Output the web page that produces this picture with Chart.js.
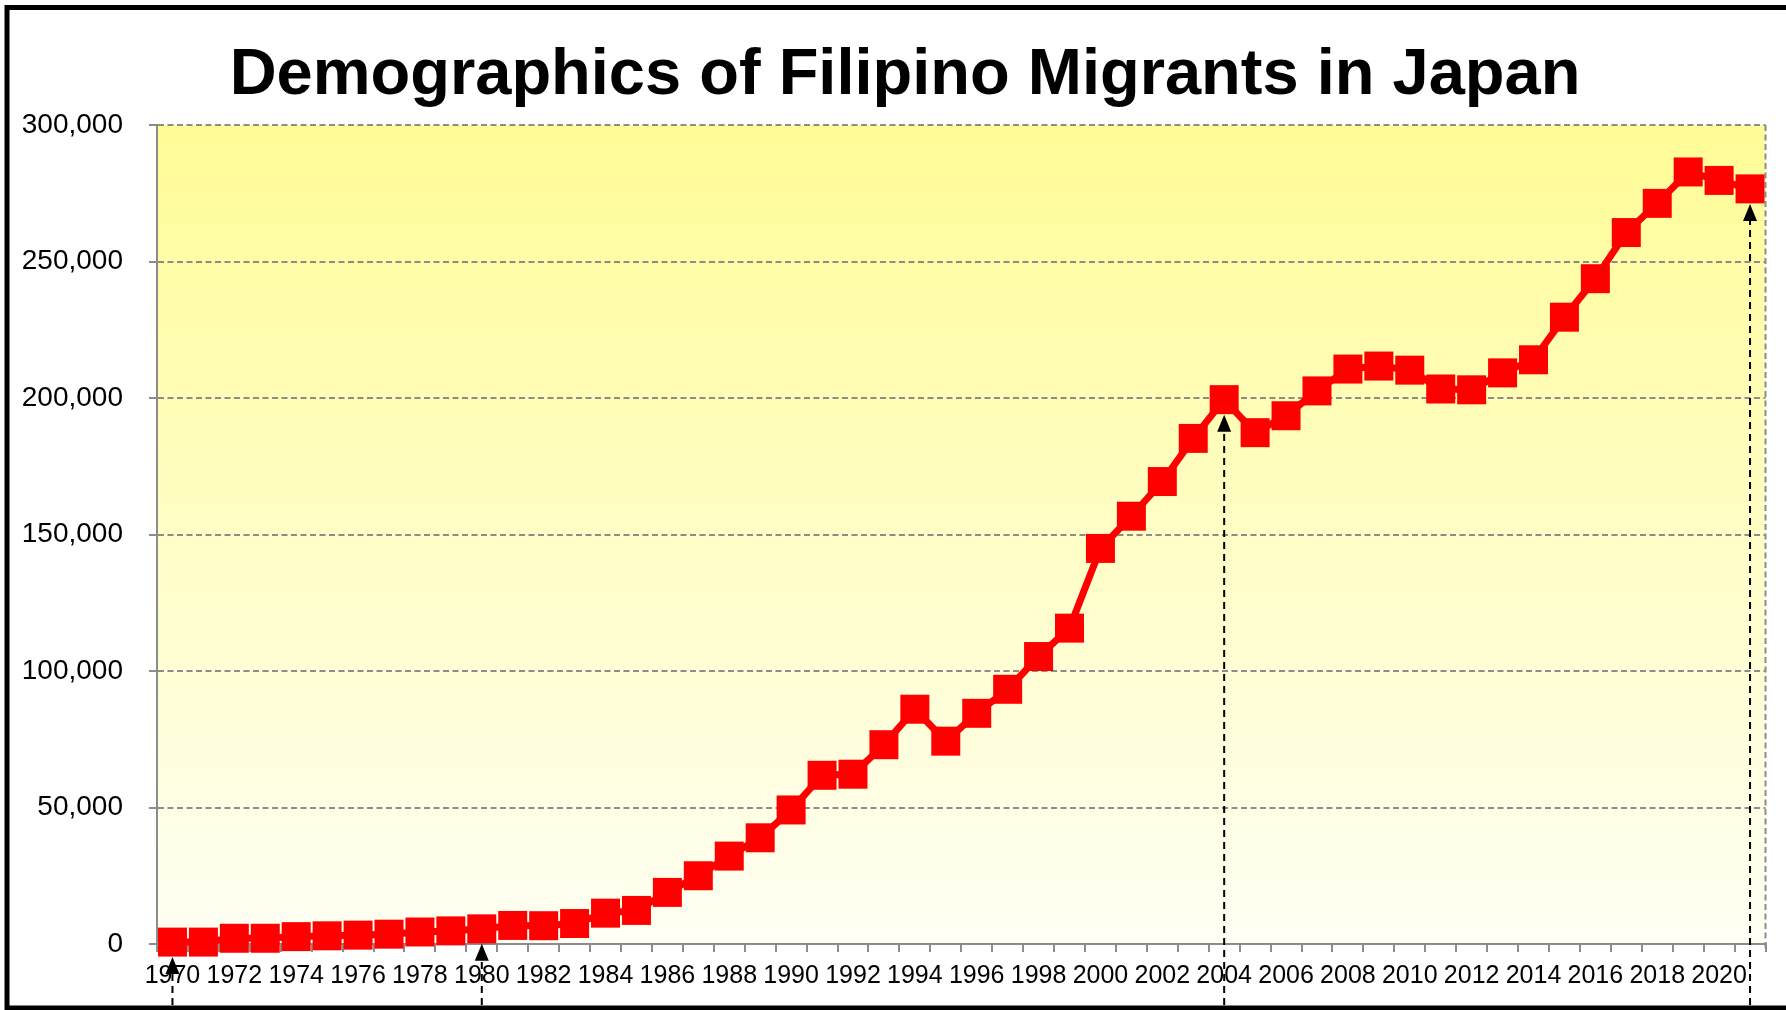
<!DOCTYPE html>
<html>
<head>
<meta charset="utf-8">
<title>Demographics of Filipino Migrants in Japan</title>
<script src="https://cdn.jsdelivr.net/npm/chart.js@4/dist/chart.umd.min.js"></script>
<style>
  html, body { margin: 0; padding: 0; background: #fff; }
  canvas { display: block; }
</style>
</head>
<body>
<canvas id="migrantChart" width="1786" height="1010"></canvas>
<script>
// Filipino residents in Japan
const years = [
    '1970', '1971', '1972', '1973', '1974', '1975', '1976', '1977', '1978', '1979',
    '1980', '1981', '1982', '1983', '1984', '1985', '1986', '1987', '1988', '1989',
    '1990', '1991', '1992', '1993', '1994', '1995', '1996', '1997', '1998', '1999',
    '2000', '2001', '2002', '2003', '2004', '2005', '2006', '2007', '2008', '2009',
    '2010', '2011', '2012', '2013', '2014', '2015', '2016', '2017', '2018', '2019',
    '2020', '2021'
];
const residents = [
    700, 700, 2100, 2100, 2700, 3000, 3250, 3600, 4400, 4800,
    5550, 6800, 6700, 7500, 11300, 12300, 18900, 25000, 32200, 38900,
    49100, 61800, 62200, 73000, 86000, 74300, 84500, 93300, 105300, 115700,
    144900, 156700, 169400, 185200, 199400, 187300, 193500, 202600, 210600, 211700,
    210200, 203300, 203000, 209200, 214000, 229600, 243700, 260600, 271300, 282800,
    279700, 276600
];
const yTicks = [0, 50000, 100000, 150000, 200000, 250000, 300000];
const markedYears = ['1970', '1980', '2004', '2021'];

const chartTitle = 'Demographics of Filipino Migrants in Japan';
const fontFamily = '"Liberation Sans", Arial, sans-serif';
const gridGray = '#8c8c8c';

// yellow fade behind the plot, dashed right edge, outer frame
const backdrop = {
    id: 'backdrop',
    afterLayout(chart) {
        // title sits a little right of the canvas centre in the original
        if (chart.titleBlock) chart.titleBlock.left += 26;
    },
    beforeDraw(chart) {
        const { ctx, chartArea: a } = chart;
        const g = ctx.createLinearGradient(0, a.top, 0, a.bottom);
        g.addColorStop(0, '#FFFC96');
        g.addColorStop(1, '#FFFFF4');
        ctx.save();
        ctx.fillStyle = g;
        ctx.fillRect(a.left, a.top, a.right - a.left, a.bottom - a.top);
        ctx.restore();
    },
    beforeDatasetsDraw(chart) {
        const { ctx, chartArea: a } = chart;
        ctx.save();
        ctx.strokeStyle = gridGray;
        ctx.lineWidth = 2;
        ctx.setLineDash([6, 3.5]);
        ctx.beginPath();
        ctx.moveTo(a.right, a.top);
        ctx.lineTo(a.right, a.bottom + 8);
        ctx.stroke();
        ctx.restore();
    },
    afterDraw(chart) {
        const ctx = chart.ctx;
        ctx.save();
        ctx.strokeStyle = '#000';
        ctx.lineWidth = 5;
        ctx.beginPath();
        ctx.moveTo(chart.width + 10, 7.5);
        ctx.lineTo(7, 7.5);
        ctx.lineTo(7, chart.height - 2);
        ctx.lineTo(chart.width + 10, chart.height - 2);
        ctx.stroke();
        ctx.restore();
    }
};

// dashed arrows pointing up at selected years
const arrows = {
    id: 'arrows',
    afterDatasetsDraw(chart) {
        const ctx = chart.ctx;
        const xs = chart.scales.x;
        const ys = chart.scales.y;
        ctx.save();
        markedYears.forEach(function(yr) {
            const i = years.indexOf(yr);
            const x = xs.getPixelForValue(i);
            const tip = ys.getPixelForValue(residents[i]) + 15;
            ctx.strokeStyle = '#000';
            ctx.lineWidth = 2;
            ctx.setLineDash([7, 5]);
            ctx.beginPath();
            ctx.moveTo(x, chart.height - 5);
            ctx.lineTo(x, tip + 16);
            ctx.stroke();
            ctx.setLineDash([]);
            ctx.fillStyle = '#000';
            ctx.beginPath();
            ctx.moveTo(x, tip);
            ctx.lineTo(x - 7, tip + 17);
            ctx.lineTo(x + 7, tip + 17);
            ctx.closePath();
            ctx.fill();
        });
        ctx.restore();
    }
};

const canvas = document.getElementById('migrantChart');
new Chart(canvas, {
    type: 'line',
    data: {
        labels: years,
        datasets: [{
            label: 'Filipino residents',
            data: residents,
            borderColor: '#FF0000',
            backgroundColor: '#FF0000',
            borderWidth: 7,
            tension: 0,
            pointStyle: 'rect',
            pointRadius: 20.5,
            pointBackgroundColor: '#FF0000',
            pointBorderColor: '#FF0000',
            pointBorderWidth: 0,
            clip: false
        }]
    },
    options: {
        responsive: false,
        animation: false,
        layout: { padding: { left: 18, right: 20, top: 0, bottom: 0 } },
        plugins: {
            legend: { display: false },
            tooltip: { enabled: false },
            title: {
                display: true,
                text: chartTitle,
                color: '#000',
                font: { family: fontFamily, size: 65, weight: 'bold' },
                padding: { top: 37, bottom: 10 }
            }
        },
        scales: {
            x: {
                offset: true,
                grid: {
                    offset: true,
                    drawOnChartArea: false,
                    drawTicks: true,
                    tickLength: 8,
                    color: gridGray,
                    lineWidth: 2
                },
                border: { color: gridGray, width: 2 },
                ticks: {
                    autoSkip: false,
                    maxRotation: 0,
                    minRotation: 0,
                    padding: 9,
                    color: '#000',
                    font: { family: fontFamily, size: 25 },
                    callback: function(v, i) { return i % 2 === 0 ? years[i] : ''; }
                },
                afterFit: function(s) { s.height = 66; }
            },
            y: {
                min: 0,
                max: 300000,
                afterBuildTicks: function(s) { s.ticks = yTicks.map(function(v) { return { value: v }; }); },
                grid: {
                    color: gridGray,
                    lineWidth: 2,
                    tickLength: 8
                },
                border: { color: gridGray, width: 2, dash: [6, 3.5] },
                ticks: {
                    padding: 26,
                    color: '#000',
                    font: { family: fontFamily, size: 28 },
                    callback: function(v) { return v.toLocaleString('en-US'); }
                },
                afterFit: function(s) { s.width = 139; }
            }
        }
    },
    plugins: [backdrop, arrows]
});
</script>
</body>
</html>
